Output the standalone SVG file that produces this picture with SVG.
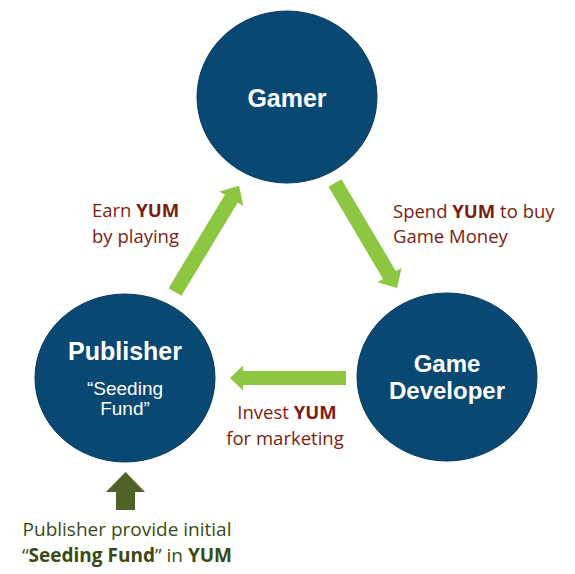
<svg xmlns="http://www.w3.org/2000/svg" width="575" height="574" viewBox="0 0 575 574">
<style>
.node{fill:#0a4874;stroke:#083a5e;stroke-width:1}
.nt{font-family:"Liberation Sans",Arial,sans-serif;font-weight:bold;fill:#ffffff;text-anchor:middle}
.ns{font-family:"Liberation Sans",Arial,sans-serif;fill:#ffffff;text-anchor:middle;font-size:19px}
.arr{fill:#8dc641}
.lbl{font-family:"Open Sans","Liberation Sans",sans-serif;font-size:18.5px;fill:#7b1d10}
.gl{font-family:"Open Sans","Liberation Sans",sans-serif;font-size:19px;fill:#3a4a12;text-anchor:middle}
.b{font-weight:bold}
</style>
<rect width="575" height="574" fill="#ffffff"/>
<g id="connectors">
  <polygon class="arr" transform="translate(175,292) rotate(-58.9)" points="0,-7.5 109,-7.5 109,-14 124,0 109,14 109,7.5 0,7.5"/>
  <polygon class="arr" transform="translate(335,183) rotate(59.4)" points="0,-7.5 107,-7.5 107,-14 122,0 107,14 107,7.5 0,7.5"/>
  <polygon class="arr" transform="translate(346,378) rotate(180)" points="0,-7 103,-7 103,-12.5 116,0 103,12.5 103,7 0,7"/>
  <polygon fill="#4f6228" points="125.5,472 145,492 135,492 135,510 116,510 116,492 106,492"/>
</g>
<g id="gamer">
  <ellipse class="node" cx="287" cy="97" rx="90" ry="86"/>
  <text class="nt" x="287" y="107" font-size="25">Gamer</text>
</g>
<g id="publisher">
  <ellipse class="node" cx="125" cy="378" rx="90" ry="84"/>
  <text class="nt" x="125" y="360" font-size="25">Publisher</text>
  <text class="ns" x="125" y="395">“Seeding</text>
  <text class="ns" x="125" y="415">Fund”</text>
</g>
<g id="game-developer">
  <ellipse class="node" cx="447" cy="377" rx="90" ry="84"/>
  <text class="nt" x="447" y="372" font-size="24">Game</text>
  <text class="nt" x="447" y="399" font-size="24">Developer</text>
</g>
<g id="labels">
  <text class="lbl" x="92" y="217">Earn <tspan class="b">YUM</tspan></text>
  <text class="lbl" x="92" y="243">by playing</text>
  <text class="lbl" x="393" y="218">Spend <tspan class="b">YUM</tspan> to buy</text>
  <text class="lbl" x="393" y="243">Game Money</text>
  <text class="lbl" x="287" y="419" text-anchor="middle">Invest <tspan class="b">YUM</tspan></text>
  <text class="lbl" x="285" y="445" text-anchor="middle">for marketing</text>
  <text class="gl" x="127" y="536">Publisher provide initial</text>
  <text class="gl" x="127" y="562">“<tspan class="b">Seeding Fund</tspan>” in <tspan class="b">YUM</tspan></text>
</g>
</svg>
